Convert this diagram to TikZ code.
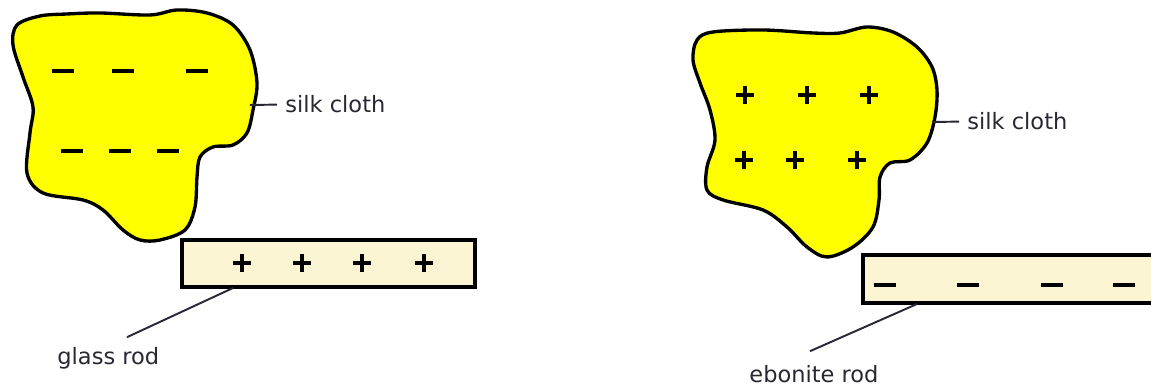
\documentclass[tikz,border=0pt]{standalone}
\usepackage{fontspec}
\setmainfont{DejaVu Sans}
\usepackage{tikz}
\usetikzlibrary{positioning,calc}

\definecolor{clothyellow}{RGB}{255,255,0}
\definecolor{rodcream}{RGB}{251,245,212}
\definecolor{labelgray}{RGB}{40,40,52}

\begin{document}
\begin{tikzpicture}[
    x=0.01cm, y=-0.01cm,
    cloth/.style={draw=black, line width=0.95pt, fill=clothyellow},
    rod/.style={draw=black, line width=0.9pt, fill=rodcream},
    minus/.style={draw=black, line width=0.95pt},
    plus/.style={draw=black, line width=1.35pt},
    label/.style={inner xsep=2.2pt, inner ysep=0pt, anchor=base west, text=labelgray, font=\fontsize{6.4}{7.5}\selectfont},
    line/.style={draw=labelgray, line width=0.55pt}
]

    \path[use as bounding box, clip] (0,0) rectangle (1151,386);

    % Left: silk cloth after rubbing glass
    \draw [cloth] plot[smooth cycle, tension=0.55] coordinates {
        (17,25) (40,16) (67,14) (100,13) (150,15) (177,10) (207,13) (233,25)
        (250,50) (257,83) (253,110) (247,133) (233,145) (213,147) (200,157)
        (197,177) (195,207) (185,230) (160,240) (140,240) (123,230) (103,210)
        (83,200) (43,193) (27,173) (30,133) (33,107) (23,77) (13,45)};
    \foreach \x in {63,123,197}
        \draw [minus] (\x-11,71) -- (\x+11,71);
    \foreach \x in {72,120,168}
        \draw [minus] (\x-11,151) -- (\x+11,151);

    % Glass rod
    \draw [rod] (182,240) rectangle (475,287);
    \foreach \x in {242,302,362,424}
        \draw [plus] (\x-9,263) -- (\x+9,263) (\x,254) -- (\x,272);

    % Right: silk cloth after rubbing ebonite
    \draw [cloth] plot[smooth cycle, tension=0.55] coordinates {
        (697,40) (713,32) (763,30) (813,33) (840,33) (867,27) (893,32) (917,47)
        (932,67) (937,90) (935,117) (927,143) (910,160) (890,163) (880,177)
        (879,200) (873,227) (853,247) (827,257) (807,247) (787,227) (763,210)
        (723,200) (707,190) (707,167) (715,140) (710,110) (700,83) (693,60)};
    \foreach \x in {745,807,869}
        \draw [plus] (\x-9,95) -- (\x+9,95) (\x,86) -- (\x,104);
    \foreach \x in {744,795,857}
        \draw [plus] (\x-9,160) -- (\x+9,160) (\x,151) -- (\x,169);

    % Ebonite rod
    \draw [rod] (863,255) rectangle (1170,303);
    \foreach \x in {885,968,1052,1124}
        \draw [minus] (\x-11,285) -- (\x+11,285);

    % Labels
    \node (silkleft) at (277,113) [label] {silk cloth};
    \node (silkright) at (959,130) [label] {silk cloth};
    \node (glasslabel) at (49,365) [label] {glass rod};
    \node (ebonitelabel) at (741,383) [label] {ebonite rod};

    \coordinate (clothleft) at (250,105);
    \coordinate (clothright) at (932,122);
    \coordinate (glassfoot) at (233,288);
    \coordinate (ebonitefoot) at (917,304);

    % Leader lines
    \draw [line] (clothleft) -- (silkleft.west);
    \draw [line] (clothright) -- (silkright.west);
    \draw [line] (glassfoot) -- ($(glasslabel.north west)+(78,-10)$);
    \draw [line] (ebonitefoot) -- ($(ebonitelabel.north west)+(69,-14)$);

\end{tikzpicture}
\end{document}
